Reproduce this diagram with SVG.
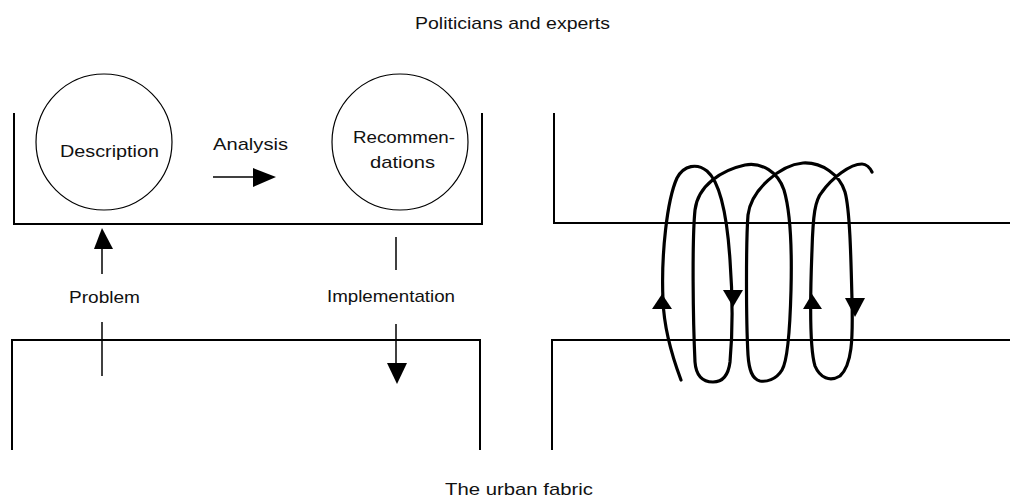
<svg xmlns="http://www.w3.org/2000/svg" width="1010" height="498" viewBox="0 0 1010 498">
<style>
text{font-family:"Liberation Sans",Arial,sans-serif;font-size:17px;fill:#111}
.frame{fill:none;stroke:#000;stroke-width:2}
.circ{fill:#fff;stroke:#000;stroke-width:1.2}
.ln{fill:none;stroke:#000;stroke-width:1.5}
.coil{fill:none;stroke:#000;stroke-width:3.2;stroke-linecap:round;stroke-linejoin:round}
.head{fill:#000}
</style>
<rect width="1010" height="498" fill="#fff"/>
<text x="415" y="29" textLength="195" lengthAdjust="spacingAndGlyphs">Politicians and experts</text>
<text x="445" y="495" textLength="148" lengthAdjust="spacingAndGlyphs">The urban fabric</text>
<g id="politicians-box-left"><path class="frame" d="M14,113 V224 H482 V113"/></g>
<g id="fabric-box-left"><path class="frame" d="M12,450 V340 H480 V450"/></g>
<g id="politicians-box-right"><path class="frame" d="M554,113 V223 H1010"/></g>
<g id="fabric-box-right"><path class="frame" d="M552,450 V340 H1010"/></g>
<g id="description"><circle class="circ" cx="104" cy="142" r="68"/><text x="60" y="157" textLength="99" lengthAdjust="spacingAndGlyphs">Description</text></g>
<g id="recommendations"><circle class="circ" cx="400" cy="142" r="68"/><text x="353" y="143" textLength="102" lengthAdjust="spacingAndGlyphs">Recommen-</text><text x="370" y="168" textLength="65" lengthAdjust="spacingAndGlyphs">dations</text></g>
<g id="connectors">
<text x="213" y="150" textLength="75" lengthAdjust="spacingAndGlyphs">Analysis</text>
<line class="ln" x1="213" y1="177" x2="254" y2="177"/>
<polygon class="head" points="253,168 276,177 253,187"/>
<line class="ln" x1="102" y1="274" x2="102" y2="247"/>
<polygon class="head" points="94,249 102,228 113,249"/>
<text x="69" y="303" textLength="71" lengthAdjust="spacingAndGlyphs">Problem</text>
<line class="ln" x1="102" y1="322" x2="102" y2="376"/>
<line class="ln" x1="396" y1="237" x2="396" y2="270"/>
<text x="327" y="302" textLength="128" lengthAdjust="spacingAndGlyphs">Implementation</text>
<line class="ln" x1="396" y1="324" x2="396" y2="365"/>
<polygon class="head" points="387,363 407,363 397,384"/>
<path class="coil" d="M681,380 C672,356 664,330 663,300 C661,255 667,200 677,178 C684,165 697,163 707,171 C720,182 727,215 730,260 C733,300 732,340 730,362 C728,378 720,382 713,382 C702,382 696,375 695,362 C693,320 692,240 695,210 C698,185 722,170 745,165 C762,162 778,172 784,190 C790,210 792,250 791,290 C790,330 788,360 782,370 C776,380 766,382 760,381 C752,379 749,370 748,355 C746,320 746,240 748,215 C751,190 780,165 803,163 C822,162 840,175 845,192 C850,210 851,260 852,300 C853,340 852,365 840,376 C830,382 820,378 815,366 C810,350 810,300 812,250 C813,215 815,200 822,192 C832,178 850,164 862,164 C866,164 870,168 872,172"/>
<polygon class="head" points="662,294 672,309 652,309"/>
<polygon class="head" points="723,290 743,290 733,307"/>
<polygon class="head" points="812,294 822,309 803,309"/>
<polygon class="head" points="845,298 865,298 855,317"/>
</g>
</svg>
